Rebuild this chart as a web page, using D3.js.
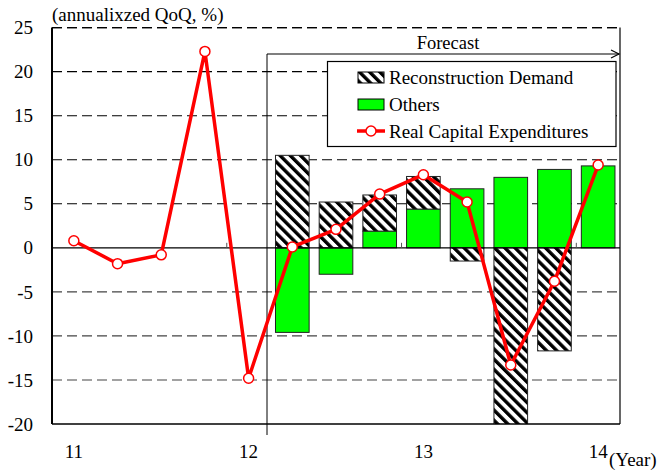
<!DOCTYPE html>
<html>
<head>
<meta charset="utf-8">
<script src="https://cdn.jsdelivr.net/npm/d3@7"></script>
<style>
  html, body { margin: 0; padding: 0; background: #fff; }
  svg { display: block; }
  text { font-family: "Liberation Serif", "DejaVu Serif", "Times New Roman", serif; fill: #000; }
</style>
</head>
<body>
<svg id="chart" width="670" height="473"></svg>
<script>
// Quarters from 2011 Q1 to 2014 Q1
const quarters = ["11Q1","11Q2","11Q3","11Q4","12Q1","12Q2","12Q3","12Q4","13Q1","13Q2","13Q3","13Q4","14Q1"];
// Real capital expenditures, annualized QoQ %
const capex = [0.8, -1.8, -0.8, 22.3, -14.8, 0.1, 2.1, 6.1, 8.3, 5.2, -13.3, -3.8, 9.4];
// Contribution of reconstruction demand (forecast period only)
const recon = [null, null, null, null, null, 10.5, 5.2, 4.1, 3.7, -1.5, -21.3, -11.7, 0];
// Contribution of other demand (forecast period only)
const others = [null, null, null, null, null, -9.6, -3.0, 1.9, 4.4, 6.7, 8.0, 8.9, 9.3];
const yTicks = [-20, -15, -10, -5, 0, 5, 10, 15, 20, 25];
const yearTicks = ["11Q1", "12Q1", "13Q1", "14Q1"];
const yearLabels = ["11", "12", "13", "14"];
const yearBoundaries = ["11Q4", "12Q4", "13Q4"];

const svg = d3.select("#chart");
const plotL = 52, plotR = 620, plotT = 27.6, plotB = 424;
const fs = 19;

const x = d3.scaleBand().domain(quarters).range([plotL, plotR])
  .paddingInner(0.23).paddingOuter(0.115);
const cx = q => x(q) + x.bandwidth() / 2;
const y = d3.scaleLinear().domain([-20, 25]).range([plotB, plotT]);

// Hatch pattern for reconstruction demand
const defs = svg.append("defs");
const pat = defs.append("pattern").attr("id", "hatch")
  .attr("patternUnits", "userSpaceOnUse").attr("width", 7.2).attr("height", 7.2)
  .attr("patternTransform", "rotate(-45)");
pat.append("rect").attr("width", 7.2).attr("height", 7.2).attr("fill", "#fff");
pat.append("rect").attr("width", 3.4).attr("height", 7.2).attr("fill", "#000");
defs.append("clipPath").attr("id", "plotclip").append("rect")
  .attr("x", plotL).attr("y", plotT).attr("width", plotR - plotL).attr("height", plotB - plotT);

// Dashed gridlines
svg.append("g").selectAll("line").data(yTicks.filter(d => d !== 0 && d !== -20)).join("line")
  .attr("x1", plotL).attr("x2", plotR)
  .attr("y1", d => y(d)).attr("y2", d => y(d))
  .attr("stroke", d => d > 0 ? "#000" : "#444").attr("stroke-width", 1.1)
  .attr("stroke-dasharray", "10,5");

// Y axis labels
svg.append("g").selectAll("text").data(yTicks).join("text")
  .attr("x", 33).attr("y", d => y(d)).attr("dy", "0.35em")
  .attr("text-anchor", "end").attr("font-size", fs)
  .text(d => d);

svg.append("text").attr("x", 52).attr("y", 21).attr("font-size", fs)
  .text("(annualixzed QoQ, %)");

// Stacked bars (diverging)
const rows = quarters.map((q, i) => ({ q, others: others[i], recon: recon[i] }))
  .filter(d => d.others !== null);
const series = d3.stack().keys(["others", "recon"]).offset(d3.stackOffsetDiverging)(rows);
const barG = svg.append("g").attr("clip-path", "url(#plotclip)");
series.forEach(s => {
  barG.append("g").selectAll("rect").data(s.filter(d => d[1] - d[0] !== 0)).join("rect")
    .attr("x", d => x(d.data.q)).attr("width", x.bandwidth())
    .attr("y", d => y(Math.max(d[0], d[1])))
    .attr("height", d => Math.abs(y(d[0]) - y(d[1])))
    .attr("fill", s.key === "others" ? "#00ff00" : "url(#hatch)")
    .attr("stroke", "#222").attr("stroke-width", 1);
});

// Frame
svg.append("line").attr("x1", plotL).attr("x2", plotR).attr("y1", plotT).attr("y2", plotT)
  .attr("stroke", "#000").attr("stroke-width", 1.1).attr("stroke-dasharray", "10,5");
svg.append("line").attr("x1", plotL).attr("x2", plotR).attr("y1", plotB).attr("y2", plotB)
  .attr("stroke", "#000").attr("stroke-width", 1.5);
svg.append("line").attr("x1", plotL).attr("x2", plotL).attr("y1", plotT).attr("y2", plotB)
  .attr("stroke", "#000").attr("stroke-width", 2);
svg.append("line").attr("x1", plotR).attr("x2", plotR).attr("y1", plotT).attr("y2", plotB)
  .attr("stroke", "#000").attr("stroke-width", 1.2);

// Zero line and small ticks at year boundaries
svg.append("line").attr("x1", plotL).attr("x2", plotR).attr("y1", y(0)).attr("y2", y(0))
  .attr("stroke", "#000").attr("stroke-width", 1.2);
const boundaryX = q => x(q) + x.bandwidth() + (x.step() - x.bandwidth()) / 2;
svg.append("g").selectAll("line").data(yearBoundaries).join("line")
  .attr("x1", boundaryX).attr("x2", boundaryX)
  .attr("y1", y(0) - 5).attr("y2", y(0))
  .attr("stroke", "#555").attr("stroke-width", 1);

// Forecast marker
const fx = 267;
svg.append("line").attr("x1", fx).attr("x2", fx).attr("y1", 54).attr("y2", 435)
  .attr("stroke", "#000").attr("stroke-width", 1);
svg.append("line").attr("x1", fx).attr("x2", plotR - 1).attr("y1", 54).attr("y2", 54)
  .attr("stroke", "#000").attr("stroke-width", 1.2);
svg.append("path").attr("d", `M${plotR - 9},50 L${plotR - 1},54 L${plotR - 9},58`)
  .attr("fill", "none").attr("stroke", "#000").attr("stroke-width", 1.2);
svg.append("text").attr("x", 448).attr("y", 49).attr("text-anchor", "middle")
  .attr("font-size", 18.5).text("Forecast");

// Real capital expenditures line
const line = d3.line().x((d, i) => cx(quarters[i])).y(d => y(d));
svg.append("path").datum(capex).attr("d", line)
  .attr("fill", "none").attr("stroke", "#ff0000").attr("stroke-width", 3.5)
  .attr("stroke-linejoin", "round");
svg.append("g").selectAll("circle").data(capex).join("circle")
  .attr("cx", (d, i) => cx(quarters[i])).attr("cy", d => y(d)).attr("r", 5)
  .attr("fill", "#fff").attr("stroke", "#ff0000").attr("stroke-width", 1.5);

// X axis year labels
svg.append("g").selectAll("text").data(yearTicks).join("text")
  .attr("x", d => cx(d)).attr("y", 458).attr("text-anchor", "middle")
  .attr("font-size", fs).text((d, i) => yearLabels[i]);
svg.append("text").attr("x", 609).attr("y", 466).attr("font-size", fs).text("(Year)");

// Legend
const lg = svg.append("g");
lg.append("rect").attr("x", 327.5).attr("y", 61.5).attr("width", 288.5).attr("height", 85)
  .attr("fill", "#fff").attr("stroke", "#000").attr("stroke-width", 1.2);
lg.append("rect").attr("x", 358).attr("y", 72).attr("width", 26).attr("height", 11)
  .attr("fill", "url(#hatch)").attr("stroke", "#000").attr("stroke-width", 1);
lg.append("text").attr("x", 389).attr("y", 83.5).attr("font-size", fs).text("Reconstruction Demand");
lg.append("rect").attr("x", 358).attr("y", 99).attr("width", 26).attr("height", 11)
  .attr("fill", "#00ff00").attr("stroke", "#000").attr("stroke-width", 1);
lg.append("text").attr("x", 389).attr("y", 110.5).attr("font-size", fs).text("Others");
lg.append("line").attr("x1", 357).attr("x2", 385).attr("y1", 131).attr("y2", 131)
  .attr("stroke", "#ff0000").attr("stroke-width", 3.5);
lg.append("circle").attr("cx", 371).attr("cy", 131).attr("r", 5)
  .attr("fill", "#fff").attr("stroke", "#ff0000").attr("stroke-width", 1.5);
lg.append("text").attr("x", 389).attr("y", 137.5).attr("font-size", fs).text("Real Capital Expenditures");
</script>
</body>
</html>
